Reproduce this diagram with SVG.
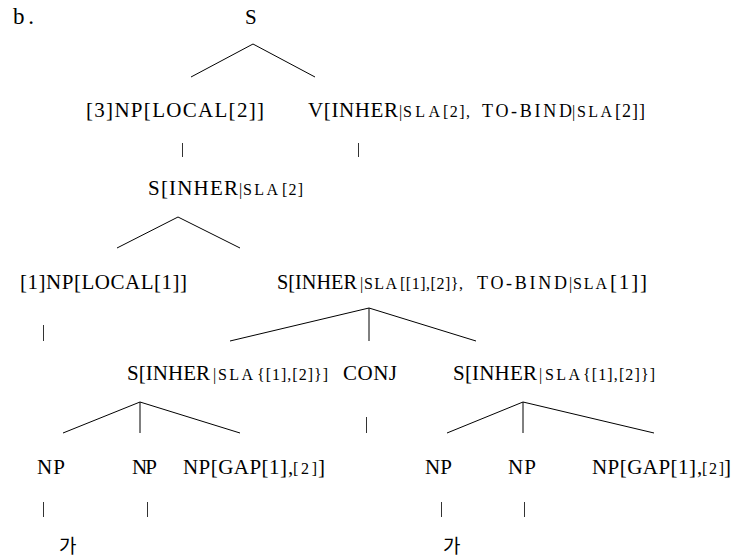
<svg xmlns="http://www.w3.org/2000/svg" width="740" height="560" viewBox="0 0 740 560">
  <style>
    text { font-family: "Liberation Serif", "Times New Roman", serif; fill: #000; }
    .m { font-size: 21px; }
    .s { font-size: 16px; }
    .t { font-size: 18px; }
    .lbl { font-size: 23px; }
    .k { font-family: "Noto Sans CJK KR", "Noto Sans", sans-serif; font-size: 19px; }
    .edge { stroke: #000; stroke-width: 1; fill: none; }
    .bar { stroke: #333; stroke-width: 1; }
  </style>

  <rect width="740" height="560" fill="#fff"/>

  <!-- example label -->
  <text class="lbl" x="13" y="24" textLength="21" lengthAdjust="spacing">b.</text>

  <!-- tree branches -->
  <g id="connectors">
    <path class="edge" d="M191,77 L253,44 L315,77"/>
    <line class="bar" x1="182.5" y1="143" x2="182.5" y2="157"/>
    <line class="bar" x1="358.5" y1="143" x2="358.5" y2="157"/>
    <path class="edge" d="M117,248 L178,217 L240,248"/>
    <line class="bar" x1="43.5" y1="325" x2="43.5" y2="341"/>
    <path class="edge" d="M230,341 L369,308 L476,341 M369,308 L369,341"/>
    <line class="bar" x1="366.5" y1="417" x2="366.5" y2="433"/>
    <path class="edge" d="M63,433 L140,402 L240,433 M140,402 L140,433"/>
    <path class="edge" d="M447,433 L523,402 L654,433 M523,402 L523,433"/>
    <line class="bar" x1="43.5" y1="502" x2="43.5" y2="517"/>
    <line class="bar" x1="147.5" y1="502" x2="147.5" y2="517"/>
    <line class="bar" x1="441.5" y1="502" x2="441.5" y2="517"/>
    <line class="bar" x1="524.5" y1="502" x2="524.5" y2="517"/>
  </g>

  <g id="root">
    <text class="m" x="245" y="24">S</text>
  </g>

  <g id="np3">
    <text class="m" x="86" y="117" textLength="178" lengthAdjust="spacing">[3]NP[LOCAL[2]]</text>
  </g>

  <g id="v">
    <text class="m" x="308" y="117" textLength="90" lengthAdjust="spacing">V[INHER</text>
    <text class="s" x="399" y="117">|</text>
    <text class="s" x="403" y="117" textLength="37" lengthAdjust="spacing">SLA</text>
    <text class="s" x="443" y="117" textLength="27" lengthAdjust="spacing">[2],</text>
    <text class="t" x="482" y="117" textLength="90" lengthAdjust="spacing">TO-BIND</text>
    <text class="s" x="572" y="117">|</text>
    <text class="s" x="577" y="117" textLength="35" lengthAdjust="spacing">SLA</text>
    <text class="t" x="615" y="117" textLength="30" lengthAdjust="spacing">[2]]</text>
  </g>

  <g id="s-inher">
    <text class="m" x="148" y="195" textLength="90" lengthAdjust="spacing">S[INHER</text>
    <text class="s" x="239" y="195">|</text>
    <text class="s" x="243" y="195" textLength="35" lengthAdjust="spacing">SLA</text>
    <text class="s" x="282" y="195" textLength="21" lengthAdjust="spacing">[2]</text>
  </g>

  <g id="np1">
    <text class="m" x="20" y="289" textLength="167" lengthAdjust="spacing">[1]NP[LOCAL[1]]</text>
  </g>

  <g id="s-bind">
    <text class="m" x="277" y="289" textLength="80" lengthAdjust="spacingAndGlyphs">S[INHER</text>
    <text class="s" x="360" y="289">|</text>
    <text class="s" x="364" y="289" textLength="33" lengthAdjust="spacing">SLA</text>
    <text class="s" x="400" y="289" textLength="63" lengthAdjust="spacing">[[1],[2]},</text>
    <text class="t" x="477" y="289" textLength="90" lengthAdjust="spacing">TO-BIND</text>
    <text class="s" x="569" y="289">|</text>
    <text class="s" x="573" y="289" textLength="34" lengthAdjust="spacing">SLA</text>
    <text class="m" x="610" y="289" textLength="37" lengthAdjust="spacing">[1]]</text>
  </g>

  <g id="s-left">
    <text class="m" x="127" y="380" textLength="83" lengthAdjust="spacing">S[INHER</text>
    <text class="s" x="213" y="380">|</text>
    <text class="s" x="218" y="380" textLength="35" lengthAdjust="spacing">SLA</text>
    <text class="s" x="257" y="380" textLength="71" lengthAdjust="spacing">{[1],[2]}]</text>
  </g>

  <g id="conj">
    <text class="m" x="343" y="380" textLength="54" lengthAdjust="spacing">CONJ</text>
  </g>

  <g id="s-right">
    <text class="m" x="453" y="380" textLength="84" lengthAdjust="spacing">S[INHER</text>
    <text class="s" x="539" y="380">|</text>
    <text class="s" x="545" y="380" textLength="35" lengthAdjust="spacing">SLA</text>
    <text class="s" x="583" y="380" textLength="72" lengthAdjust="spacing">{[1],[2]}]</text>
  </g>

  <g id="np-a1">
    <text class="m" x="37" y="474" textLength="28" lengthAdjust="spacing">NP</text>
  </g>
  <g id="np-b1">
    <text class="m" x="132" y="474" textLength="25" lengthAdjust="spacing">NP</text>
  </g>
  <g id="np-gap1">
    <text class="m" x="183" y="474" textLength="104" lengthAdjust="spacing">NP[GAP[1]</text>
    <text class="m" x="288" y="474">,</text>
    <text class="s" x="293" y="474" textLength="24" lengthAdjust="spacing">[2]</text>
    <text class="m" x="318" y="474">]</text>
  </g>

  <g id="np-a2">
    <text class="m" x="425" y="474" textLength="27" lengthAdjust="spacing">NP</text>
  </g>
  <g id="np-b2">
    <text class="m" x="508" y="474" textLength="28" lengthAdjust="spacing">NP</text>
  </g>
  <g id="np-gap2">
    <text class="m" x="592" y="474" textLength="104" lengthAdjust="spacing">NP[GAP[1]</text>
    <text class="m" x="697" y="474">,</text>
    <text class="s" x="702" y="474" textLength="22" lengthAdjust="spacing">[2]</text>
    <text class="m" x="724" y="474">]</text>
  </g>

  <g id="ga1">
    <text class="k" x="59" y="553">가</text>
  </g>
  <g id="ga2">
    <text class="k" x="443" y="553">가</text>
  </g>
</svg>
